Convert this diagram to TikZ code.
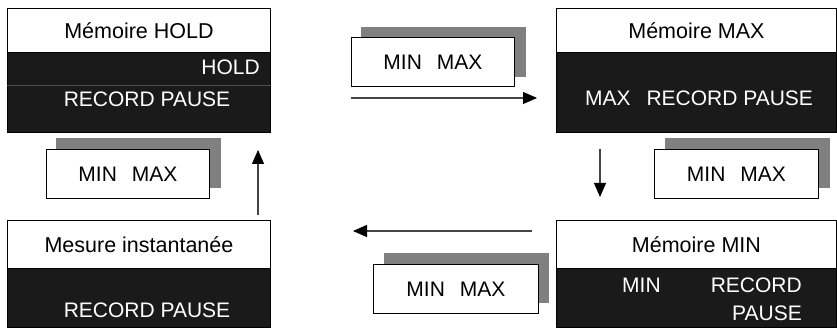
\documentclass[tikz,border=0pt]{standalone}
\usepackage{fontspec}
\setmainfont{Liberation Sans}
\usetikzlibrary{arrows.meta}
\definecolor{dark}{HTML}{1A1A1A}
\definecolor{shadowgray}{HTML}{808080}
\definecolor{shaft}{HTML}{454545}
\tikzset{
  hdr/.style={draw=black, fill=white, line width=0.9pt, anchor=north west, inner sep=0pt, font=\fontsize{21.5}{24}\selectfont},
  bodybox/.style={draw=black, fill=dark, line width=0.9pt, anchor=north west, inner sep=0pt},
  wtxt/.style={text=white, font=\fontsize{21}{24}\selectfont, inner sep=0pt},
  shadowbox/.style={fill=shadowgray, anchor=north west, inner sep=0pt, minimum width=165pt, minimum height=50pt},
  keybox/.style={draw=black, fill=white, line width=0.9pt, anchor=north west, inner sep=0pt, minimum height=49pt, font=\fontsize{21}{24}\selectfont},
  flow/.style={draw=shaft, line width=1.1pt, -{Triangle[length=14pt,width=12pt,fill=black,color=black]}},
  sepline/.style={draw=gray!60!black, line width=0.8pt}
}
\begin{document}
\begin{tikzpicture}[x=1pt,y=-1pt]
\useasboundingbox (0,0) rectangle (837,328);
% HOLD box
\node[hdr, minimum width=263pt, minimum height=44pt] (holdH) at (7,8) {Mémoire HOLD};
\node[bodybox, minimum width=263pt, minimum height=80pt] (holdB) at (7,52) {};
\draw[sepline] ([yshift=-33pt]holdB.north west) -- ([yshift=-33pt]holdB.north east);
\node[wtxt, anchor=base east] (holdT1) at (260,75) {HOLD};
\node[wtxt, anchor=base] (holdT2) at (147,107) {RECORD PAUSE};
% MAX box
\node[hdr, minimum width=280pt, minimum height=44pt] (maxH) at (556,8) {Mémoire MAX};
\node[bodybox, minimum width=280pt, minimum height=80pt] (maxB) at (556,52) {};
\node[wtxt, anchor=base] (maxT) at (699,106) {MAX\hspace{16pt}RECORD PAUSE};
% Mesure box
\node[hdr, minimum width=263pt, minimum height=48pt] (mesH) at (7,220) {Mesure instantanée};
\node[bodybox, minimum width=263pt, minimum height=59pt] (mesB) at (7,268) {};
\node[wtxt, anchor=base] (mesT) at (147,317) {RECORD PAUSE};
% MIN box
\node[hdr, minimum width=280pt, minimum height=48pt] (minH) at (556,220) {Mémoire MIN};
\node[bodybox, minimum width=280pt, minimum height=59pt] (minB) at (556,268) {};
\node[wtxt, anchor=base west] (minT1) at (622,293) {MIN};
\node[wtxt, anchor=base east] (minT2) at (802,293) {RECORD};
\node[wtxt, anchor=base east] (minT3) at (802,320) {PAUSE};
% key boxes
\node[shadowbox] (s1) at (361,27) {};
\node[keybox, minimum width=163pt] (k1) at (351,37) {MIN\hspace{15pt}MAX};
\node[shadowbox] (s2) at (665,138) {};
\node[keybox, minimum width=164pt] (k2) at (654,149) {MIN\hspace{15pt}MAX};
\node[shadowbox] (s3) at (384,253) {};
\node[keybox, minimum width=165pt] (k3) at (373,264) {MIN\hspace{15pt}MAX};
\node[shadowbox] (s4) at (56,138) {};
\node[keybox, minimum width=163pt] (k4) at (46,149) {MIN\hspace{15pt}MAX};
% arrows
\coordinate (a1s) at (351,98); \coordinate (a1e) at (537,98);
\coordinate (a2s) at (600,149); \coordinate (a2e) at (600,197);
\coordinate (a3s) at (532,231); \coordinate (a3e) at (353,231);
\coordinate (a4s) at (258,215); \coordinate (a4e) at (258,150);
\draw[flow] (a1s) -- (a1e);
\draw[flow] (a2s) -- (a2e);
\draw[flow] (a3s) -- (a3e);
\draw[flow] (a4s) -- (a4e);
\end{tikzpicture}
\end{document}
